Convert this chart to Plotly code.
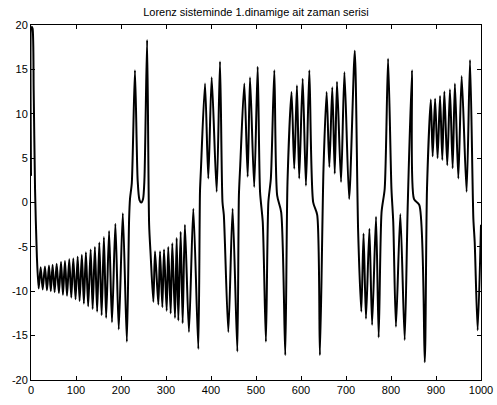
import plotly.graph_objects as go

# Key points (sample index, value)
t_points = [
    0, 1.5, 3.5, 6, 9, 13,
    17, 21.5, 26, 31, 35.5, 40, 44, 48, 52.5, 57, 62, 66.7, 71, 75.5, 80, 85,
    89.5, 94, 99, 103.7, 108, 113, 117.5, 122, 127, 132.6, 137, 142, 147, 151.8,
    157, 162, 167, 173.5, 180, 187.5, 195, 204, 213,
    218, 220, 224, 231, 237, 241, 245, 249, 252, 258, 262.5, 266,
    271.9, 275.6, 283, 286.7, 291.9, 295.6, 301.5, 305, 310.4, 314, 320, 323.7,
    327.4, 332.6, 337, 342, 351, 360.7, 371.8,
    375.5, 377.5, 386.7, 394, 401.5, 412.6, 420, 425.5, 428.5, 438.5, 448, 458.5,
    462, 465, 474, 481.5, 486.7, 496, 503.7, 509, 515, 522, 527.5, 533, 540.7,
    547, 556, 565, 570, 579, 585, 591, 596, 603.7, 611, 618.5, 627, 636, 642,
    650, 657, 663, 669.5, 675, 680, 689, 696.5, 707, 719.5, 727, 734, 739, 744.4,
    752, 758, 766.7, 772.6, 779, 786, 793.5, 801, 805, 811, 820.7, 830.4, 837,
    846.7, 851, 863, 875, 880, 888.5, 892.6, 898, 903.5, 909, 914, 918.5, 925,
    931, 937, 942, 949.6, 957, 968, 975.6, 983, 986, 992.6, 1000,
]
x_values = [
    3.0, 19.8, 19.6, 12.5, 1.5, -6.0,
    -9.7, -7.3, -9.8, -7.2, -9.9, -7.1, -10.0, -7.0, -10.1, -6.9, -10.2, -6.7,
    -10.4, -6.6, -10.5, -6.4, -10.7, -6.3, -10.9, -6.1, -11.1, -5.9, -11.4, -5.6,
    -11.7, -5.3, -12.0, -5.0, -12.3, -4.5, -12.7, -3.9, -13.0, -3.2, -13.5, -2.4,
    -14.3, -1.2, -15.7,
    -1.9, 0.4, 2.2, 14.9, 2.5, 0.3, 0.0, 0.4, 2.5, 18.3, -2.5, -6.0,
    -11.2, -5.5, -11.5, -5.5, -11.8, -5.3, -12.2, -5.0, -12.5, -4.6, -13.0, -4.0,
    -13.3, -3.3, -13.6, -2.5, -14.6, -0.7, -16.5,
    1.2, 3.6, 13.4, 2.7, 14.1, 1.2, 15.9, 0.05, -1.4, -14.6, -0.7, -16.8,
    0.8, 4.2, 13.4, 2.9, 14.1, 1.75, 15.3, 1.2, -2.2, -15.7, 0.05, 2.7, 14.9,
    0.8, -1.1, -17.2, 2.3, 12.45, 3.8, 13.2, 2.7, 13.95, 1.9, 14.9, 0.05, -1.4, -17.2,
    3.8, 12.45, 4.0, 13.0, 3.25, 13.6, 2.3, 14.7, 0.4, 17.1, -3.3, -12.3, -3.5, -13.1,
    -2.95, -13.8, -1.6, -15.2, -1.1, 1.55, 16.2, 1.55, -2.2, -14.0, -1.3, -15.5, -0.7,
    14.9, 0.4, -0.3, -18.0, 1.55, 11.6, 5.2, 11.7, 5.0, 12.0, 4.8, 12.5, 4.2,
    12.75, 3.85, 13.4, 2.7, 14.25, 1.2, 16.05, -1.8, -4.45, -14.4, -2.5,
]

x_ticks = list(range(0, 1001, 100))
y_ticks = list(range(-20, 21, 5))
title_text = "Lorenz sisteminde 1.dinamige ait zaman serisi"

fig = go.Figure()
fig.add_trace(go.Scatter(
    x=t_points, y=x_values, mode="lines",
    line=dict(color="black", width=2, shape="spline", smoothing=0.7),
    showlegend=False, hoverinfo="skip", cliponaxis=True,
))

axis_common = dict(
    showgrid=False, zeroline=False, showline=True, linecolor="black", linewidth=1,
    mirror="ticks", ticks="inside", ticklen=4, tickcolor="black", automargin=False,
    tickfont=dict(family="Liberation Sans, Arial, sans-serif", size=11, color="black"),
)
fig.update_xaxes(range=[0, 1000], tickvals=x_ticks, ticktext=[str(v) for v in x_ticks], **axis_common)
fig.update_yaxes(range=[-20, 20], tickvals=y_ticks, ticktext=[str(v) for v in y_ticks], **axis_common)

fig.update_layout(
    width=497, height=405,
    margin=dict(l=31, r=16, t=25, b=25, autoexpand=False),
    paper_bgcolor="white", plot_bgcolor="white",
    title=dict(text=title_text, x=0.515, xanchor="center", y=0.97, yanchor="middle",
               font=dict(family="Liberation Sans, Arial, sans-serif", size=11, color="black")),
)

fig.write_html(
    "out.html",
    config={"displayModeBar": False},
    post_script="document.body.style.margin='0';document.body.style.overflow='hidden';",
)
